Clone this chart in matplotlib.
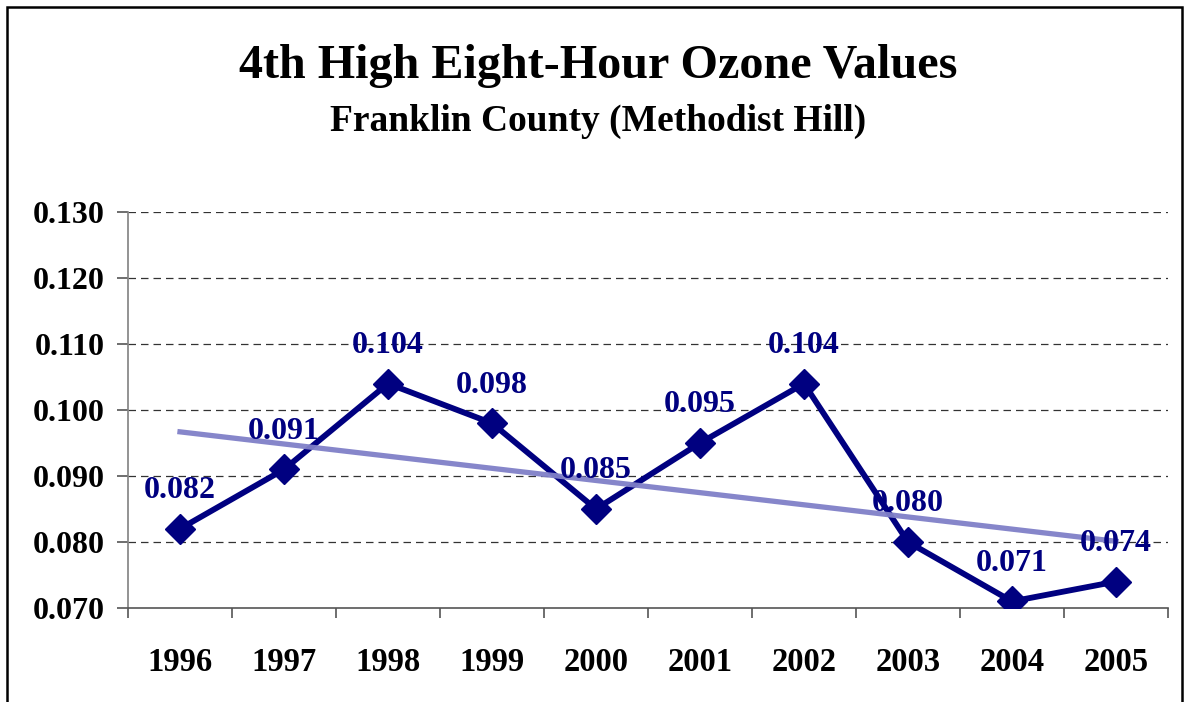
import numpy as np
import matplotlib
matplotlib.use("Agg")
import matplotlib.pyplot as plt
from matplotlib.patches import Rectangle
from matplotlib.ticker import FixedLocator

years = ["1996", "1997", "1998", "1999", "2000", "2001", "2002", "2003", "2004", "2005"]
values = [0.082, 0.091, 0.104, 0.098, 0.085, 0.095, 0.104, 0.080, 0.071, 0.074]
yticks = [0.070, 0.080, 0.090, 0.100, 0.110, 0.120, 0.130]
title = "4th High Eight-Hour Ozone Values"
subtitle = "Franklin County (Methodist Hill)"

plt.rcParams['font.family'] = ['Liberation Serif', 'DejaVu Serif']
plt.rcParams['font.weight'] = 'bold'

fig = plt.figure(figsize=(11.87, 7.02), dpi=100)
ax = fig.add_axes([128/1187, 94/702, 1040/1187, 396/702])

x = np.arange(len(years))
navy = '#000080'
ax.plot(x, values, color=navy, lw=4.2, marker='D', markersize=15.5, zorder=3,
        solid_joinstyle='miter')

# linear trendline (least squares fit of the data)
coef = np.polyfit(x, values, 1)
ax.plot(x, np.polyval(coef, x), color='#8080C8', lw=3.8, zorder=4, alpha=0.95)

for xi, v in zip(x, values):
    ax.annotate(f"{v:.3f}", (xi, v), xytext=(0, 27.5), textcoords='offset points',
                ha='center', va='center', color=navy, fontsize=23, fontweight='bold',
                zorder=5)

ax.set_xlim(-0.5, len(years) - 0.5)
ax.set_ylim(0.070, 0.130)
ax.set_yticks(yticks)
ax.set_yticklabels([f"{t:.3f}" for t in yticks], fontsize=23, fontweight='bold')
ax.set_xticks(x)
ax.set_xticklabels(years, fontsize=23.5, fontweight='bold')
ax.xaxis.set_minor_locator(FixedLocator(np.arange(-0.5, len(years), 1.0)))
ax.tick_params(axis='x', which='major', length=0, pad=28)
ax.tick_params(axis='x', which='minor', length=7.5, width=1.2, color='#555555', direction='out')
ax.tick_params(axis='y', which='major', length=8, width=1.2, color='#555555', pad=9, direction='out')

for y in yticks[1:]:
    ax.axhline(y, color='#333333', lw=0.9, ls=(0, (6, 4)), zorder=1)

for s in ['top', 'right']:
    ax.spines[s].set_visible(False)
ax.spines['left'].set_color('#808080')
ax.spines['bottom'].set_color('#555555')
ax.spines['left'].set_linewidth(1.2)
ax.spines['bottom'].set_linewidth(1.2)

fig.text(598/1187, 1 - 66/702, title, ha='center', va='center', fontsize=34.7, fontweight='bold')
fig.text(598/1187, 1 - 121/702, subtitle, ha='center', va='center', fontsize=27, fontweight='bold')

border = Rectangle((7/1187, -0.05), (1182-7)/1187, 1.05 - 7/702, transform=fig.transFigure,
                   fill=False, edgecolor='black', lw=1.8, clip_on=False)
fig.patches.append(border)

fig.savefig("out.png", dpi=100)
